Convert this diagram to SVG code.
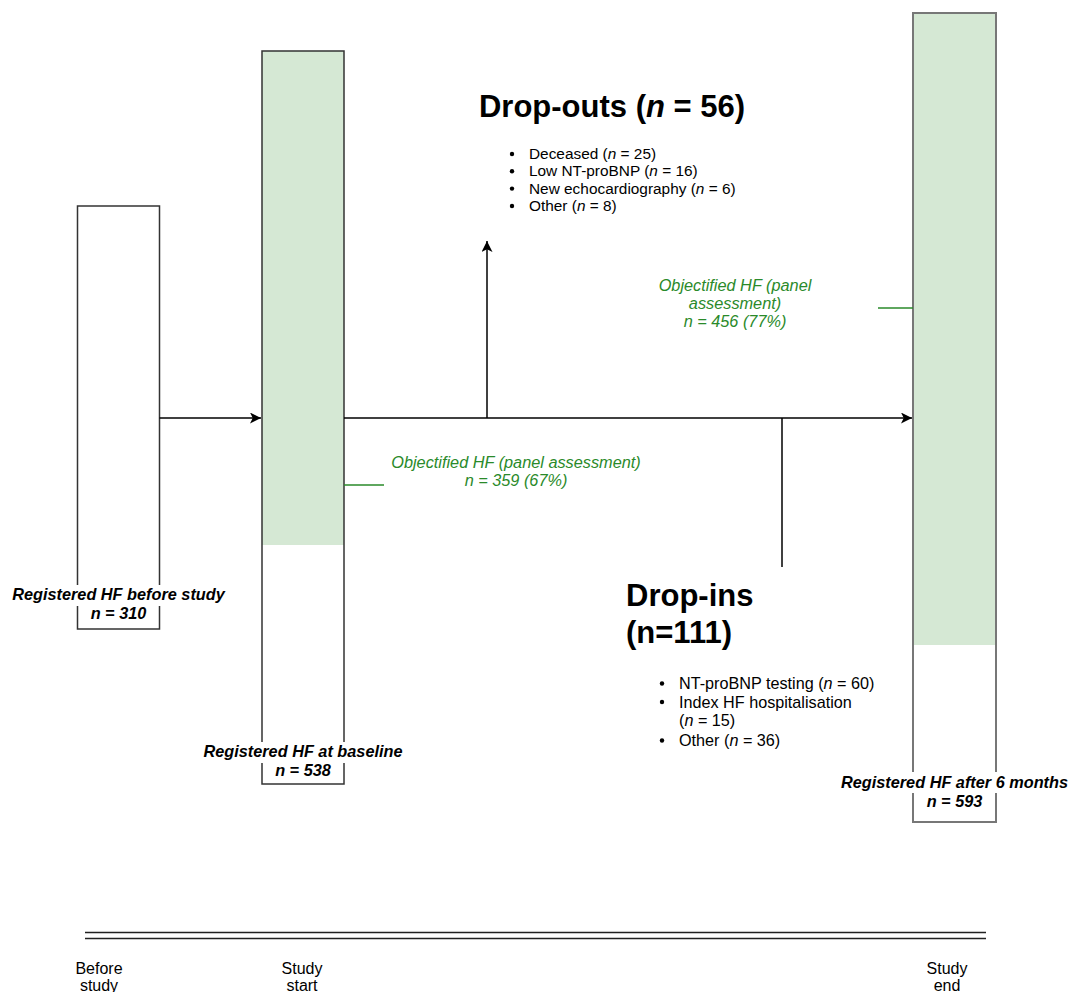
<svg xmlns="http://www.w3.org/2000/svg" width="1070" height="992" viewBox="0 0 1070 992">
<defs>
<marker id="arr" viewBox="0 0 10 10" refX="10" refY="5" markerWidth="11" markerHeight="11" markerUnits="userSpaceOnUse" orient="auto">
<path d="M0,0 L10,5 L0,10 L2.5,5 Z" fill="#000"/>
</marker>
<style>
text{font-family:"Liberation Sans",Arial,sans-serif;fill:#000}
.lbl{font-size:16.3px;font-weight:bold;font-style:italic;text-anchor:middle}
.grn{font-size:16.3px;font-style:italic;fill:#2a8a2a;text-anchor:middle}
.title{font-size:31px;font-weight:bold}
.b1{font-size:15.4px}
.b2{font-size:16.2px}
.tl{font-size:16px;text-anchor:middle}
.box{stroke:#333;stroke-width:1.5}
.conn{stroke:#000;stroke-width:1.5;fill:none}
</style>
</defs>
<rect width="1070" height="992" fill="#fff"/>

<g id="before">
<rect class="box" x="77.5" y="206" width="82" height="423" fill="#fff"/>
<rect x="8" y="585" width="224" height="21" fill="#fff"/>
<text class="lbl" x="118.5" y="600">Registered HF before study</text>
<text class="lbl" x="118.5" y="619">n = 310</text>
</g>

<g id="baseline">
<rect x="262" y="51" width="82" height="494" fill="#d5e8d4"/>
<rect class="box" x="262" y="51" width="82" height="733" fill="none"/>
<rect x="196" y="742" width="214" height="21" fill="#fff"/>
<text class="lbl" x="303" y="757">Registered HF at baseline</text>
<text class="lbl" x="303" y="776">n = 538</text>
</g>

<g id="after">
<rect x="913" y="13" width="83" height="632" fill="#d5e8d4"/>
<rect x="913" y="13" width="83" height="809" fill="none" stroke="#777" stroke-width="2"/>
<rect x="834" y="772" width="236" height="21" fill="#fff"/>
<text class="lbl" x="954.5" y="788">Registered HF after 6 months</text>
<text class="lbl" x="954.5" y="807">n = 593</text>
</g>

<g id="dropouts">
<text class="title" x="612" y="117" text-anchor="middle">Drop-outs (<tspan font-style="italic">n</tspan> = 56)</text>
<circle cx="512" cy="154" r="2.2"/>
<text class="b1" x="529" y="159">Deceased (<tspan font-style="italic">n</tspan> = 25)</text>
<circle cx="512" cy="171.3" r="2.2"/>
<text class="b1" x="529" y="176.3">Low NT-proBNP (<tspan font-style="italic">n</tspan> = 16)</text>
<circle cx="512" cy="188.6" r="2.2"/>
<text class="b1" x="529" y="193.6">New echocardiography (<tspan font-style="italic">n</tspan> = 6)</text>
<circle cx="512" cy="206" r="2.2"/>
<text class="b1" x="529" y="211">Other (<tspan font-style="italic">n</tspan> = 8)</text>
</g>

<g id="dropins">
<text class="title" x="626" y="606">Drop-ins</text>
<text class="title" x="626" y="643">(n=111)</text>
<circle cx="662" cy="683.5" r="2.2"/>
<text class="b2" x="679" y="689">NT-proBNP testing (<tspan font-style="italic">n</tspan> = 60)</text>
<circle cx="662" cy="702" r="2.2"/>
<text class="b2" x="679" y="707.5">Index HF hospitalisation</text>
<text class="b2" x="679" y="726">(<tspan font-style="italic">n</tspan> = 15)</text>
<circle cx="662" cy="740.5" r="2.2"/>
<text class="b2" x="679" y="746">Other (<tspan font-style="italic">n</tspan> = 36)</text>
</g>

<g id="objectified-baseline">
<line x1="344" y1="485" x2="384" y2="485" stroke="#2a8a2a" stroke-width="1.5"/>
<text class="grn" x="516" y="468">Objectified HF (panel assessment)</text>
<text class="grn" x="516" y="486">n = 359 (67%)</text>
</g>

<g id="objectified-after">
<line x1="878" y1="308" x2="913" y2="308" stroke="#2a8a2a" stroke-width="1.5"/>
<text class="grn" x="735" y="291">Objectified HF (panel</text>
<text class="grn" x="735" y="309">assessment)</text>
<text class="grn" x="735" y="327">n = 456 (77%)</text>
</g>

<g id="connectors">
<line class="conn" x1="159.5" y1="418" x2="261" y2="418" marker-end="url(#arr)"/>
<line class="conn" x1="344" y1="418" x2="912" y2="418" marker-end="url(#arr)"/>
<line class="conn" x1="487" y1="418" x2="487" y2="241" stroke="#444" marker-end="url(#arr)"/>
<line class="conn" x1="782" y1="418" x2="782" y2="567" stroke="#333"/>
</g>

<g id="timeline">
<line x1="85" y1="932.5" x2="986" y2="932.5" stroke="#222" stroke-width="1.5"/>
<line x1="85" y1="938.5" x2="986" y2="938.5" stroke="#222" stroke-width="1.5"/>
<text class="tl" x="99" y="974">Before</text>
<text class="tl" x="99" y="991">study</text>
<text class="tl" x="302" y="974">Study</text>
<text class="tl" x="302" y="991">start</text>
<text class="tl" x="947" y="974">Study</text>
<text class="tl" x="947" y="991">end</text>
</g>
</svg>
